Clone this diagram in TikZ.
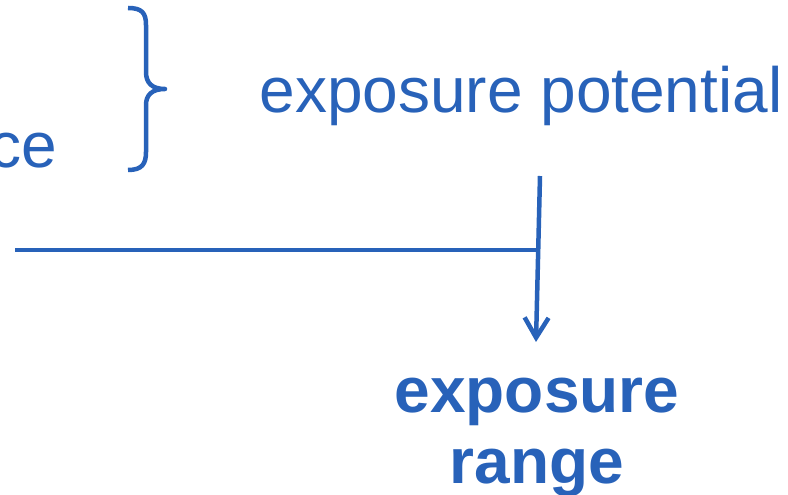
\documentclass[tikz,border=0pt]{standalone}
\usepackage{fontspec}
\setmainfont{Liberation Sans}
\usetikzlibrary{arrows.meta}
\definecolor{ink}{HTML}{2862B9}
\tikzset{
  lbl/.style={text=ink, inner sep=0pt, font=\fontsize{64}{71}\selectfont},
  boldlbl/.style={lbl, font=\fontsize{64}{71}\selectfont\bfseries, align=center},
  conn/.style={draw=ink, line width=4.5pt},
}
\begin{document}
\begin{tikzpicture}[x=1pt,y=1pt]
\useasboundingbox (0,0) rectangle (788,495);
\clip (0,0) rectangle (788,495);
% texts
\node[lbl, anchor=base east] (ce) at (57,327) {ce};
\node[lbl, anchor=base] (ep) at (521,382) {exposure potential};
\node[boldlbl, anchor=base] (er) at (537,11) {exposure\\range};
% brace
\draw[conn, line join=round] (128,487) .. controls (142,487) and (146,482) .. (146,470)
  -- (146,423) .. controls (146,412) and (152,406) .. (165,406)
  .. controls (152,406) and (146,400) .. (146,390)
  -- (146,343) .. controls (146,331) and (142,325) .. (128,325);
% connectors
\coordinate (vtop) at (540,319);
\coordinate (tip) at (536,153);
\coordinate (hstart) at (15,245);
\coordinate (junc) at (538,245);
\draw[conn] (hstart) -- (junc);
\draw[conn, -{Straight Barb[length=20pt,width=24pt]}] (vtop) -- (tip);
\end{tikzpicture}
\end{document}
